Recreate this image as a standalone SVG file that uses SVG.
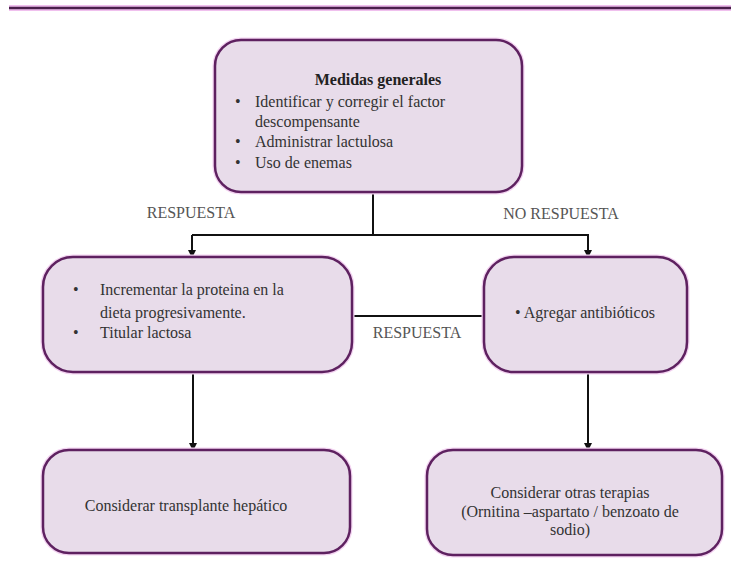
<svg xmlns="http://www.w3.org/2000/svg" width="731" height="563" viewBox="0 0 731 563">
<defs>
<marker id="arr" markerWidth="8" markerHeight="8" refX="7" refY="4" orient="auto" markerUnits="userSpaceOnUse">
<path d="M0,0 L8,4 L0,8 Z" fill="#111"/>
</marker>
</defs>
<style>
.box{fill:#e8dcea;stroke:#5e2160;stroke-width:2.5}
.glow{fill:none;stroke:#f3d3f1;stroke-width:5}
.c{fill:none;stroke:#111;stroke-width:2}
</style>
<rect width="731" height="563" fill="#fff"/>
<line x1="9" y1="8" x2="731" y2="8" stroke="#f0c0ee" stroke-width="6"/>
<line x1="9" y1="8" x2="731" y2="8" stroke="#4a1f4c" stroke-width="2.5"/>
<g id="connectors">
<line class="c" x1="373" y1="192" x2="373" y2="235"/>
<polyline class="c" points="192,235 588,235 588,257" marker-end="url(#arr)"/>
<line class="c" x1="192" y1="235" x2="192" y2="257" marker-end="url(#arr)"/>
<line class="c" x1="352" y1="316" x2="484" y2="316"/>
<line class="c" x1="193" y1="372" x2="193" y2="450" marker-end="url(#arr)"/>
<line class="c" x1="588" y1="372" x2="588" y2="450" marker-end="url(#arr)"/>
<g font-family="Liberation Serif" font-size="16" fill="#555" text-anchor="middle">
<text x="191" y="218">RESPUESTA</text>
<text x="561" y="219">NO RESPUESTA</text>
<text x="417" y="338">RESPUESTA</text>
</g>
</g>
<g id="n1">
<rect class="glow" x="215" y="40" width="307" height="152" rx="26"/>
<rect class="box" x="215" y="40" width="307" height="152" rx="26"/>
<g font-family="Liberation Serif" font-size="16" fill="#333">
<text x="378" y="85" text-anchor="middle" font-weight="bold" fill="#222">Medidas generales</text>
<text x="235" y="107">•</text><text x="255" y="107">Identificar y corregir el factor</text>
<text x="255" y="127">descompensante</text>
<text x="235" y="147">•</text><text x="255" y="147">Administrar lactulosa</text>
<text x="235" y="168">•</text><text x="255" y="168">Uso de enemas</text>
</g>
</g>
<g id="n2">
<rect class="glow" x="43" y="257" width="309" height="115" rx="30"/>
<rect class="box" x="43" y="257" width="309" height="115" rx="30"/>
<g font-family="Liberation Serif" font-size="16" fill="#333">
<text x="73" y="295">•</text><text x="100" y="295">Incrementar la proteina en la</text>
<text x="100" y="318">dieta progresivamente.</text>
<text x="73" y="338">•</text><text x="100" y="338">Titular lactosa</text>
</g>
</g>
<g id="n3">
<rect class="glow" x="484" y="257" width="203" height="115" rx="30"/>
<rect class="box" x="484" y="257" width="203" height="115" rx="30"/>
<text x="585" y="318" text-anchor="middle" font-family="Liberation Serif" font-size="16" fill="#333">• Agregar antibióticos</text>
</g>
<g id="n4">
<rect class="glow" x="43" y="450" width="307" height="103" rx="26"/>
<rect class="box" x="43" y="450" width="307" height="103" rx="26"/>
<text x="186" y="511" text-anchor="middle" font-family="Liberation Serif" font-size="16" fill="#333">Considerar transplante hepático</text>
</g>
<g id="n5">
<rect class="glow" x="427" y="450" width="295" height="105" rx="26"/>
<rect class="box" x="427" y="450" width="295" height="105" rx="26"/>
<g font-family="Liberation Serif" font-size="16" fill="#333" text-anchor="middle">
<text x="570" y="498">Considerar otras terapias</text>
<text x="570" y="517">(Ornitina –aspartato / benzoato de</text>
<text x="570" y="535">sodio)</text>
</g>
</g>
</svg>
